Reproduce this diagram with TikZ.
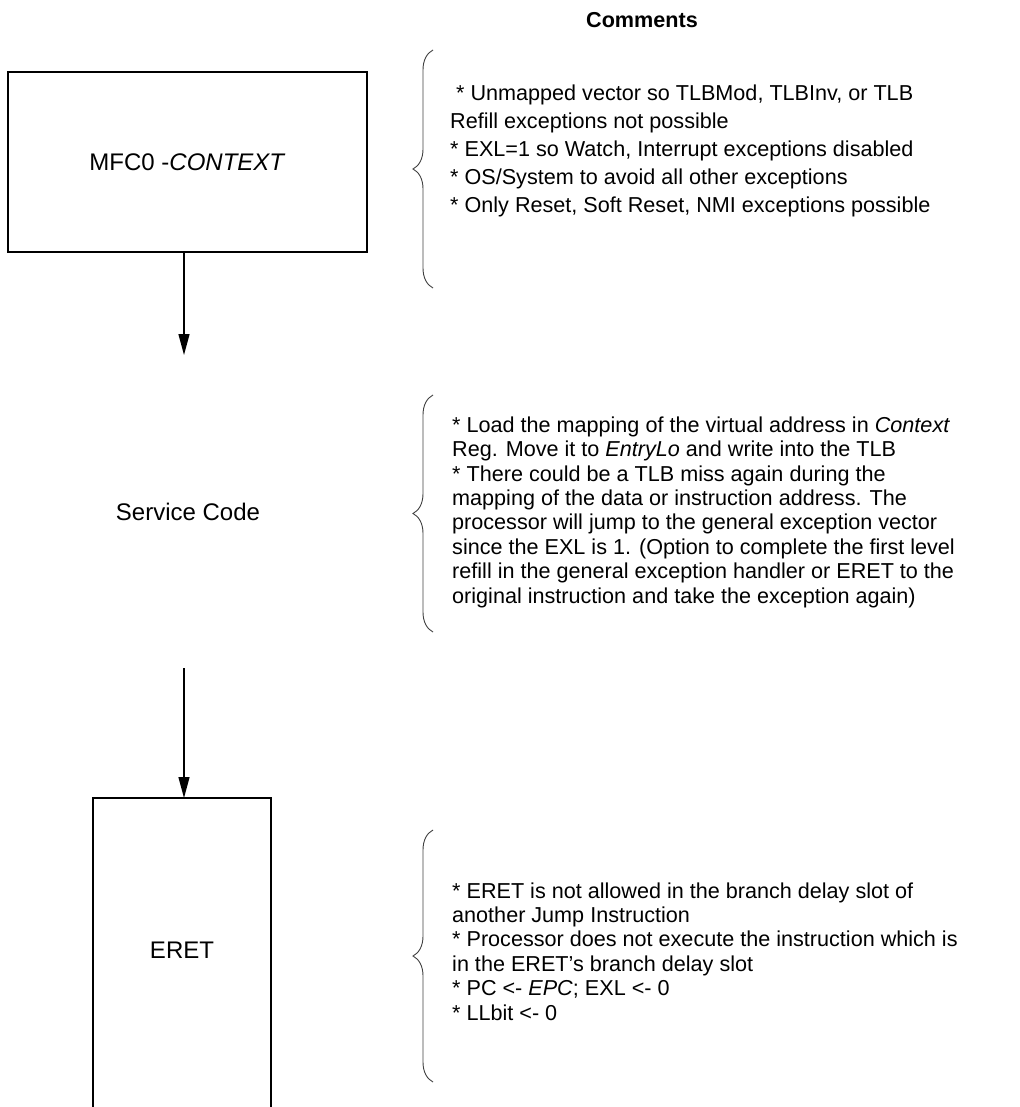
\documentclass[tikz,border=0pt]{standalone}
\usepackage{fontspec}
\setmainfont{Liberation Sans}
\usetikzlibrary{arrows.meta,decorations.pathreplacing}

\tikzset{
  stagebox/.style={draw,line width=1.3pt,inner sep=0pt},
  boxline/.style={line width=1.3pt},
  note/.style={anchor=base west,align=left,inner sep=0pt,
    font=\fontsize{21.6}{24.4}\selectfont},
  bracket/.style={decorate,decoration={brace,amplitude=20pt},
    draw=black!75,line width=0.9pt},
}

\begin{document}
\begin{tikzpicture}[x=1pt,y=-1pt,>={Triangle[length=21pt,width=11pt]},
  font=\fontsize{24}{28}\selectfont]
  \useasboundingbox (0,0) rectangle (1019,1107);
  \node[font=\bfseries\fontsize{21.6}{24}\selectfont] (title) at (642,20)
    {Comments};

  % First step: context register read into a general register.
  % (note nodes are placed by the baseline of their last line)
  \node[stagebox,minimum width=359pt,minimum height=180pt] (mfc)
    at (187.5,162) {MFC0 -\textit{CONTEXT}};
  \coordinate (svcin) at (184,355);
  \draw[->,boxline] (mfc.south -| svcin) -- (svcin);

  \draw[bracket] (433,288) -- (433,50);
  \node[note,font=\fontsize{21.6}{28}\selectfont] (mfcnote) at (450,213)
    {~* Unmapped vector so TLBMod, TLBInv, or TLB\\
     Refill exceptions not possible\\
     * EXL=1 so Watch, Interrupt exceptions disabled\\
     * OS/System to avoid all other exceptions\\
     * Only Reset, Soft Reset, NMI exceptions possible};

  % Second step: the refill itself.
  \node (svc) at (188,512) {Service Code};
  \draw[bracket] (433,632) -- (433,395);
  \node[note] (svcnote) at (452,603)
    {* Load the mapping of the virtual address in \textit{Context}\\
     Reg. Move it to \textit{EntryLo} and write into the TLB\\
     * There could be a TLB miss again during the\\
     mapping of the data or instruction address. The\\
     processor will jump to the general exception vector\\
     since the EXL is 1. (Option to complete the first level\\
     refill in the general exception handler or ERET to the\\
     original instruction and take the exception again)};

  \coordinate (svcout) at (184,668);
  \coordinate (eretin) at (184,798);
  \draw[->,boxline] (svcout) -- (eretin);

  % Last step: return; the box runs off the bottom edge.
  \draw[boxline] (93,1115) -- (93,798) -- (271,798) -- (271,1115);
  \node (eret) at (182,950) {ERET};
  \draw[bracket] (433,1082) -- (433,830);
  \node[note] (eretnote) at (452,1020)
    {* ERET is not allowed in the branch delay slot of\\
     another Jump Instruction\\
     * Processor does not execute the instruction which is\\
     in the ERET’s branch delay slot\\
     * PC <- \textit{EPC}; EXL <- 0\\
     * LLbit <- 0};
\end{tikzpicture}
\end{document}
